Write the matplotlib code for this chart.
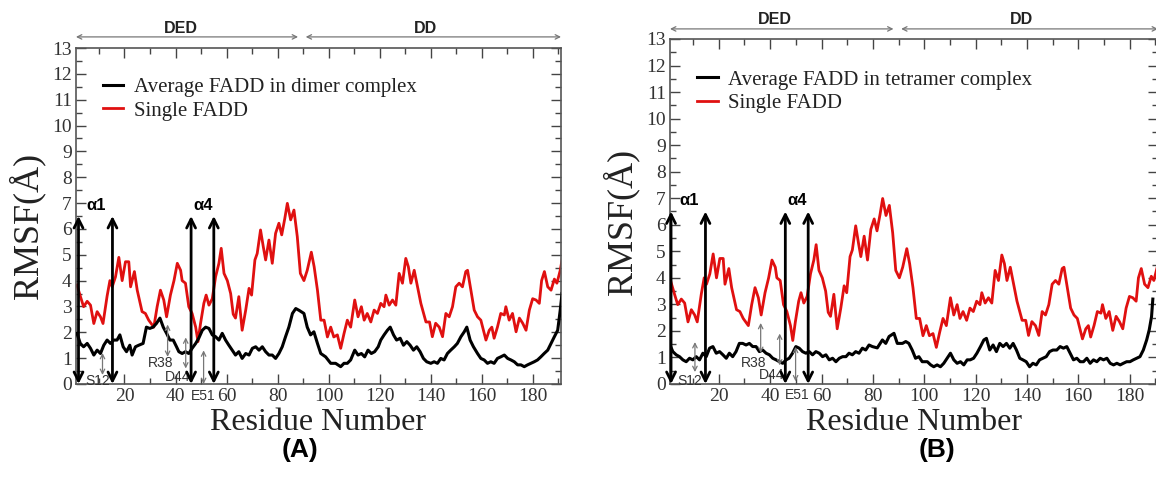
import matplotlib

matplotlib.use("Agg")
import matplotlib.pyplot as plt
from matplotlib.ticker import MultipleLocator

# values
single_res = [1.4, 2.7, 4.0, 5.4, 6.7, 8.0, 9.3, 10.6, 11.6, 13.2, 14.3, 15.2, 16.5, 17.8, 19.1,
              20.4, 21.7, 22.4, 23.9, 25.0, 26.9, 28.2, 29.5, 31.5, 32.8, 34.1, 35.4, 36.5, 38.0,
              39.4, 40.7, 42.0, 42.6, 43.9, 45.2, 46.5, 47.9, 48.8, 49.8, 51.1, 52.0, 53.1, 54.4,
              55.7, 57.0, 57.9, 59.0, 60.3, 61.6, 62.6, 63.5, 64.8, 66.1, 67.5, 68.8, 69.8, 71.1,
              72.0, 73.3, 74.4, 75.3, 76.6, 77.9, 79.2, 80.5, 81.6, 82.8, 83.8, 85.1, 86.4, 87.7,
              88.9, 90.3, 91.6, 93.2, 94.3, 95.6, 96.9, 98.2, 99.5, 100.8, 102.0, 103.4, 104.7,
              106.0, 107.3, 108.6, 110.2, 111.5, 112.8, 113.9, 115.1, 116.5, 117.8, 119.1, 120.4,
              121.7, 122.4, 123.7, 125.0, 126.3, 127.6, 128.9, 130.2, 131.2, 132.2, 133.5, 134.8,
              136.1, 138.1, 139.5, 140.6, 141.9, 143.3, 144.6, 145.9, 147.2, 148.5, 149.8, 151.1,
              152.4, 153.7, 154.4, 155.7, 157.0, 158.3, 159.6, 160.3, 161.6, 162.9, 163.9, 164.8,
              166.1, 167.4, 168.8, 169.4, 170.7, 172.0, 173.4, 174.7, 176.0, 177.3, 178.6, 179.9,
              181.2, 182.5, 183.4, 184.5, 185.8, 187.1, 188.4, 189.4, 190.7, 191.4]
single_rmsf = [3.83, 3.4, 2.99, 3.2, 3.05, 2.34, 2.8, 2.6, 2.34, 3.4, 4.0, 3.76, 4.15, 4.9, 4.0,
               4.73, 4.73, 3.76, 4.35, 3.63, 2.8, 2.73, 2.47, 2.2, 2.99, 3.63, 3.25, 2.6, 3.44,
               4.0, 4.67, 4.4, 4.0, 3.9, 2.99, 2.73, 2.2, 1.64, 2.34, 3.12, 3.44, 3.05, 3.3,
               4.15, 4.67, 5.25, 4.28, 4.0, 3.5, 2.7, 2.55, 3.38, 2.08, 2.86, 3.7, 3.44, 4.8,
               5.05, 5.96, 5.3, 4.8, 5.57, 4.67, 5.83, 6.22, 5.77, 6.4, 6.99, 6.35, 6.73, 5.7,
               4.28, 4.0, 4.4, 5.1, 4.54, 3.63, 2.47, 2.47, 1.82, 2.2, 1.82, 1.9, 1.38,
               1.95, 2.47, 2.2, 3.25, 2.6, 2.99, 2.47, 2.73, 2.4, 2.86, 2.73, 3.12,
               2.99, 3.44, 3.05, 3.25, 3.05, 4.28, 3.9, 4.86, 4.54, 3.9, 4.4, 3.76,
               3.12, 2.4, 2.4, 1.83, 2.35, 2.2, 1.83, 2.73, 2.6, 2.99, 3.76, 3.9,
               3.76, 4.35, 4.4, 3.63, 2.86, 2.6, 2.47, 2.2, 1.7, 2.08, 2.2, 1.77,
               2.2, 2.73, 2.67, 2.99, 2.47, 2.73, 2.02, 2.55, 2.35, 2.08, 2.86, 3.3,
               3.25, 3.12, 4.0, 4.35, 3.76, 3.63, 4.06, 3.9, 4.4, 4.8]

dimer_res = [1.4, 2.7, 4.0, 5.4, 6.7, 8.0, 9.3, 10.6, 11.9, 13.2, 14.5, 15.8, 17.1, 18.2, 19.5,
             20.8, 22.1, 23.0, 24.3, 25.6, 27.3, 28.6, 29.9, 31.2, 32.5, 33.9, 35.2, 36.5, 37.8,
             39.1, 40.4, 41.3, 42.6, 43.9, 45.2, 46.5, 47.9, 49.1, 50.5, 51.8, 53.1, 54.4, 55.7,
             57.0, 58.3, 59.6, 60.9, 62.2, 63.5, 64.8, 66.1, 67.5, 68.8, 70.1, 71.4, 72.7, 74.0,
             75.3, 76.6, 77.9, 79.2, 80.5, 81.8, 83.1, 84.4, 85.8, 87.1, 88.4, 90.3, 91.6, 92.9,
             94.2, 95.6, 96.9, 98.8, 100.8, 102.7, 104.7, 106.0, 107.3, 108.6, 110.2, 111.5,
             112.8, 114.1, 115.4, 116.7, 118.0, 119.4, 120.4, 121.7, 123.0, 124.1, 125.4, 126.6,
             128.0, 129.3, 130.6, 131.9, 133.2, 134.5, 135.8, 137.1, 138.4, 140.0, 141.3, 142.6,
             143.9, 145.2, 146.5, 147.8, 149.2, 150.4, 151.8, 153.1, 154.1, 155.4, 156.7, 158.3,
             159.6, 160.9, 162.2, 163.5, 164.8, 166.1, 167.4, 168.8, 170.1, 171.4, 172.7, 174.0,
             175.3, 176.6, 177.9, 179.2, 180.5, 181.8, 183.1, 184.4, 185.8, 187.1, 188.4, 189.7,
             190.7, 191.4]
dimer_rmsf = [1.96, 1.57, 1.44, 1.57, 1.38, 1.12, 1.31, 1.18, 1.5, 1.7, 1.57, 1.7, 1.7, 1.9, 1.44,
              1.25, 1.5, 1.12, 1.44, 1.5, 1.57, 2.2, 2.15, 2.2, 2.34, 2.55, 2.2, 1.96, 1.7,
              1.7, 1.44, 1.25, 1.18, 1.25, 1.18, 1.38, 1.57, 1.77, 2.08, 2.2, 2.15, 1.9, 1.83,
              1.7, 1.96, 1.7, 1.5, 1.31, 1.12, 1.25, 0.99, 1.18, 1.12, 1.38, 1.44, 1.31, 1.44,
              1.25, 1.12, 1.12, 0.99, 1.18, 1.44, 1.83, 2.2, 2.73, 2.92, 2.85, 2.73, 2.2, 1.9,
              2.02, 1.57, 1.18, 1.05, 0.8, 0.8, 0.67, 0.8, 0.8, 0.93, 1.31, 1.12,
              1.18, 1.05, 1.31, 1.18, 1.25, 1.44, 1.7, 1.9, 2.08, 2.2, 1.9, 1.7,
              1.77, 1.5, 1.64, 1.5, 1.31, 1.44, 1.25, 0.99, 0.86, 0.8, 0.86, 0.8,
              0.99, 0.93, 1.18, 1.31, 1.44, 1.57, 1.83, 2.02, 2.2, 1.7, 1.44, 1.18,
              0.99, 0.93, 0.8, 0.86, 0.8, 0.99, 1.05, 1.12, 0.99, 0.93, 0.86, 0.74,
              0.74, 0.67, 0.74, 0.8, 0.86, 0.93, 1.05, 1.18, 1.31, 1.57, 1.83, 2.08,
              2.86, 3.5]

tetramer_res = [1.0, 2.1, 3.4, 4.7, 6.0, 7.3, 8.6, 9.9, 11.2, 12.5, 13.8, 15.1, 16.4, 17.7, 19.0,
                20.3, 21.6, 22.9, 24.1, 25.4, 26.7, 28.0, 29.3, 30.6, 31.9, 33.2, 34.5, 35.8,
                37.1, 38.4, 39.7, 41.0, 42.3, 43.6, 44.9, 46.2, 47.4, 48.7, 50.0, 51.3, 52.6,
                53.9, 55.2, 56.5, 57.8, 59.1, 60.4, 61.7, 63.0, 64.3, 65.6, 66.9, 68.2, 69.5,
                70.7, 72.0, 73.3, 74.6, 75.9, 77.2, 78.5, 79.8, 81.7, 83.7, 85.0, 86.3, 88.2,
                89.5, 91.5, 92.8, 94.0, 95.3, 96.6, 97.9, 99.2, 101.2, 102.5, 103.7, 105.0,
                106.3, 107.6, 108.9, 110.2, 111.5, 112.8, 114.1, 115.4, 116.7, 117.9, 119.2,
                120.5, 121.9, 123.2, 124.2, 125.5, 126.8, 128.1, 129.4, 130.7, 132.0, 133.3,
                134.6, 135.9, 137.2, 138.4, 139.7, 141.0, 142.3, 143.6, 144.9, 146.2, 147.5,
                148.8, 150.1, 151.6, 152.9, 154.2, 155.5, 156.8, 158.1, 159.4, 160.7, 162.0,
                163.3, 164.6, 165.9, 167.2, 168.5, 169.8, 171.1, 172.4, 173.7, 175.0, 176.3,
                177.5, 178.8, 180.1, 181.4, 182.7, 184.0, 185.3, 186.6, 187.6, 188.5, 189.0]
tetramer_rmsf = [1.47, 1.22, 1.1, 1.03, 0.91, 0.84, 0.97, 0.91, 1.03, 0.91, 1.16, 1.03, 1.35, 1.41, 1.16,
                 1.22, 1.1, 0.97, 1.16, 1.03, 1.22, 1.53, 1.53, 1.47, 1.53, 1.41, 1.41, 1.22,
                 1.28, 1.16, 1.1, 0.97, 0.91, 0.84, 0.78, 0.91, 0.97, 1.16, 1.41, 1.35, 1.22,
                 1.16, 1.22, 1.1, 1.22, 1.16, 1.03, 1.1, 0.91, 0.97, 0.84, 0.97, 1.03, 1.03,
                 1.16, 1.1, 1.22, 1.16, 1.35, 1.28, 1.47, 1.41, 1.36, 1.66, 1.53, 1.79, 1.91,
                 1.53, 1.53, 1.6, 1.53, 1.28, 0.97, 1.03, 0.84, 0.84, 0.72, 0.65, 0.72,
                 0.65, 0.78, 0.97, 1.16, 0.91, 0.78, 0.84, 0.72, 0.91, 0.91, 0.97,
                 1.16, 1.41, 1.66, 1.72, 1.28, 1.47, 1.22, 1.53, 1.41, 1.53, 1.35,
                 1.53, 1.28, 0.97, 0.91, 0.84, 0.65, 0.78, 0.72, 0.91, 0.97, 1.03,
                 1.22, 1.28, 1.28, 1.41, 1.35, 1.41, 1.16, 0.91, 0.97, 0.84, 0.84,
                 0.97, 0.78, 0.91, 0.84, 0.97, 0.91, 0.97, 0.78, 0.72, 0.78, 0.72,
                 0.78, 0.84, 0.84, 0.91, 0.97, 1.03, 1.28, 1.66, 2.04, 2.54, 3.2]

# helix markers (alpha1, alpha4) and residue pointers, per panel
helix_res = {"A": [2.0, 15.3, 46.1, 55.0], "B": [1.4, 14.8, 45.9, 54.8]}
helix_top = 6.5
helix_labels = ["α1", "α4"]
helix_label_pos = {"A": [(5.0, 6.92), (47.0, 6.92)], "B": [(4.8, 6.92), (46.7, 6.92)]}

site_labels = ["S12", "R38", "D44", "E51"]
site_arrows = {
    "A": [(11.4, 0.35, 1.2), (36.9, 1.05, 2.3), (44.0, 0.6, 1.8), (51.0, 0.0, 1.3)],
    "B": [(10.7, 0.45, 1.58), (36.3, 1.17, 2.3), (43.7, 0.7, 1.9), (49.9, 0.1, 1.4)],
}
site_text_pos = {
    "A": [(9.5, 0.1), (34.0, 0.8), (41.0, 0.27), (51.0, -0.45)],
    "B": [(8.5, 0.1), (33.4, 0.79), (40.6, 0.34), (50.7, -0.41)],
}

domains = [("DED", 1, 88, 42), ("DD", 91, 191, 138)]

SERIF = "Liberation Serif"
SANS = "Liberation Sans"
plt.rcParams["font.family"] = [SERIF, "DejaVu Serif"]

fig = plt.figure(figsize=(11.56, 4.93), dpi=100)
axA = fig.add_axes([0.0657, 0.2211, 0.4196, 0.6815])
axB = fig.add_axes([0.5796, 0.2211, 0.4221, 0.6998])

panels = [
    (axA, "A", dimer_res, dimer_rmsf, "Average FADD in dimer complex",
     13.43, 13.77, (-0.064, 0.47), 0.912),
    (axB, "B", tetramer_res, tetramer_rmsf, "Average FADD in tetramer complex",
     13.38, 13.72, (-0.062, 0.47), 0.91),
]

for ax, key, cres, crmsf, clabel, arrow_y, text_y, ylab_xy, leg_y in panels:
    ax.plot(cres, crmsf, color="black", lw=2.2, label=clabel, zorder=3)
    ax.plot(single_res, single_rmsf, color="#e01010", lw=2.0, label="Single FADD", zorder=2)

    ax.set_xlim(1, 191)
    ax.set_ylim(0, 13)
    ax.set_xticks([20, 40, 60, 80, 100, 120, 140, 160, 180])
    ax.xaxis.set_minor_locator(MultipleLocator(10))
    ax.yaxis.set_major_locator(MultipleLocator(1))
    ax.yaxis.set_minor_locator(MultipleLocator(0.5))
    ax.tick_params(which="both", direction="in", top=True, right=True, colors="#444",
                   labelcolor="#333", labelsize=14, width=1)
    ax.tick_params(which="major", length=7, pad=3)
    ax.tick_params(which="minor", length=4)
    for sp in ax.spines.values():
        sp.set_color("#555")
        sp.set_linewidth(1.2)

    ax.set_xlabel("Residue Number", fontsize=23, color="#222", labelpad=2)
    ax.set_ylabel("RMSF(Å)", fontsize=26, color="#222")
    ax.yaxis.set_label_coords(*ylab_xy)

    leg = ax.legend(loc="upper left", bbox_to_anchor=(0.055, leg_y), frameon=False,
                    prop={"family": SERIF, "size": 15}, handlelength=1.0,
                    handletextpad=0.5, labelspacing=0.18, borderpad=0, borderaxespad=0)
    for t in leg.get_texts():
        t.set_color("#222")

    # helix double arrows
    for x in helix_res[key]:
        ax.annotate("", xy=(x, helix_top), xytext=(x, 0),
                    arrowprops=dict(arrowstyle="<->", lw=2.0, color="black",
                                    mutation_scale=16, shrinkA=0, shrinkB=0),
                    annotation_clip=False, zorder=4)
    for lab, (x, y) in zip(helix_labels, helix_label_pos[key]):
        ax.text(x, y, lab, fontfamily=SANS, fontweight="bold", fontsize=12,
                ha="left", va="center", color="black")

    # residue pointers
    for (x, y0, y1), lab, (tx, ty) in zip(site_arrows[key], site_labels, site_text_pos[key]):
        ax.annotate("", xy=(x, y1), xytext=(x, y0),
                    arrowprops=dict(arrowstyle="<->", lw=0.9, color="#777",
                                    mutation_scale=8, shrinkA=0, shrinkB=0),
                    annotation_clip=False)
        ax.text(tx, ty, lab, fontfamily=SANS, fontsize=10, ha="center", va="center",
                color="#333", clip_on=False)

    # domain brackets above the frame
    for name, x0, x1, xt in domains:
        ax.annotate("", xy=(x1, arrow_y), xytext=(x0, arrow_y),
                    arrowprops=dict(arrowstyle="<->", lw=0.9, color="#777",
                                    mutation_scale=8, shrinkA=0, shrinkB=0),
                    annotation_clip=False)
        ax.text(xt, text_y, name, fontfamily=SANS, fontweight="bold", fontsize=11.5,
                ha="center", va="center", color="#222", clip_on=False)

fig.text(300 / 1156, 1 - 450 / 493, "(A)", fontfamily=SANS, fontweight="bold", fontsize=19,
         ha="center", va="center")
fig.text(937 / 1156, 1 - 450 / 493, "(B)", fontfamily=SANS, fontweight="bold", fontsize=19,
         ha="center", va="center")

fig.savefig("out.png", dpi=100)
